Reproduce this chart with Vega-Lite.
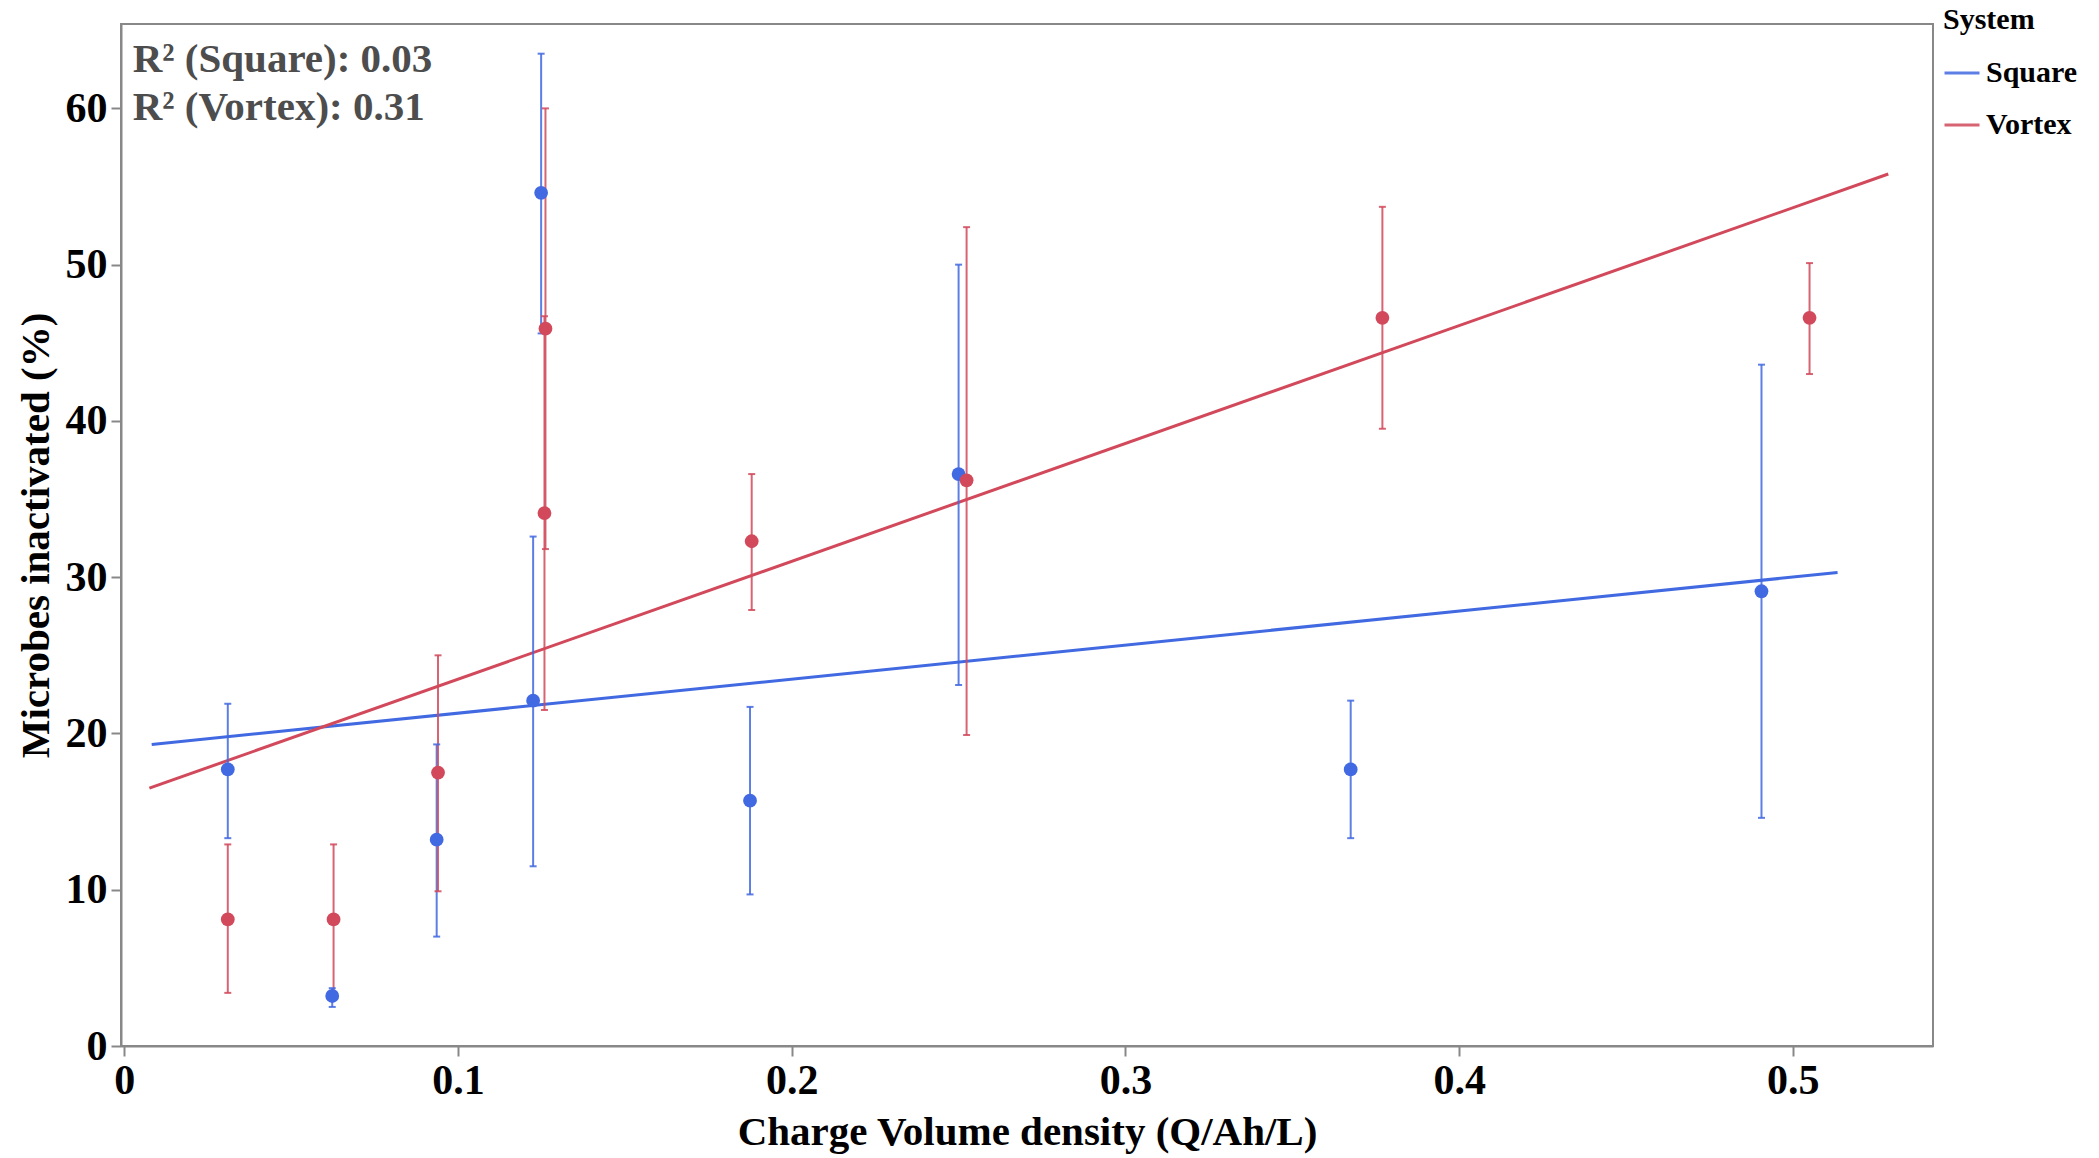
{
  "$schema": "https://vega.github.io/schema/vega-lite/v6.json",
  "width": 1812,
  "height": 1022,
  "autosize": {"type": "none"},
  "padding": {"left": 121, "top": 24, "right": 166, "bottom": 112},
  "background": "white",
  "datasets": {
    "points": [
      {"System": "Square", "x": 0.031, "y": 17.7, "lo": 13.3, "hi": 21.9},
      {"System": "Square", "x": 0.0623, "y": 3.2, "lo": 2.5, "hi": 3.7},
      {"System": "Square", "x": 0.0936, "y": 13.2, "lo": 7.0, "hi": 19.3},
      {"System": "Square", "x": 0.1225, "y": 22.1, "lo": 11.5, "hi": 32.6},
      {"System": "Square", "x": 0.1249, "y": 54.6, "lo": 45.6, "hi": 63.5},
      {"System": "Square", "x": 0.1875, "y": 15.7, "lo": 9.7, "hi": 21.7},
      {"System": "Square", "x": 0.25, "y": 36.6, "lo": 23.1, "hi": 50.0},
      {"System": "Square", "x": 0.3675, "y": 17.7, "lo": 13.3, "hi": 22.1},
      {"System": "Square", "x": 0.4906, "y": 29.1, "lo": 14.6, "hi": 43.6},
      {"System": "Vortex", "x": 0.031, "y": 8.1, "lo": 3.4, "hi": 12.9},
      {"System": "Vortex", "x": 0.0627, "y": 8.1, "lo": 3.4, "hi": 12.9},
      {"System": "Vortex", "x": 0.094, "y": 17.5, "lo": 9.9, "hi": 25.0},
      {"System": "Vortex", "x": 0.1262, "y": 45.9, "lo": 31.8, "hi": 60.0},
      {"System": "Vortex", "x": 0.1259, "y": 34.1, "lo": 21.5, "hi": 46.7},
      {"System": "Vortex", "x": 0.188, "y": 32.3, "lo": 27.9, "hi": 36.6},
      {"System": "Vortex", "x": 0.2524, "y": 36.2, "lo": 19.9, "hi": 52.4},
      {"System": "Vortex", "x": 0.377, "y": 46.6, "lo": 39.5, "hi": 53.7},
      {"System": "Vortex", "x": 0.505, "y": 46.6, "lo": 43.0, "hi": 50.1}
    ],
    "fits": [
      {"System": "Square", "x": 0.0082, "y": 19.3},
      {"System": "Square", "x": 0.5134, "y": 30.3},
      {"System": "Vortex", "x": 0.0075, "y": 16.5},
      {"System": "Vortex", "x": 0.5286, "y": 55.8}
    ],
    "notes": [
      {"label": "R² (Square): 0.03", "lx": 0.0025, "ly": 63.1},
      {"label": "R² (Vortex): 0.31", "lx": 0.0025, "ly": 60.0}
    ]
  },
  "config": {
    "font": "Liberation Serif",
    "view": {"stroke": "#888888", "strokeWidth": 2},
    "axis": {
      "grid": false,
      "domainColor": "#888888",
      "domainWidth": 2,
      "tickColor": "#888888",
      "tickWidth": 2,
      "tickSize": 10,
      "labelFont": "Liberation Serif",
      "labelFontSize": 42,
      "labelFontWeight": "bold",
      "labelColor": "black",
      "titleFont": "Liberation Serif",
      "titleFontSize": 41,
      "titleFontWeight": "bold",
      "titleColor": "black"
    },
    "legend": {
      "orient": "none",
      "legendX": 1822,
      "legendY": -19,
      "titleFont": "Liberation Serif",
      "titleFontSize": 30,
      "titleFontWeight": "bold",
      "titleColor": "black",
      "titlePadding": 19,
      "labelFont": "Liberation Serif",
      "labelFontSize": 30,
      "labelFontWeight": "bold",
      "labelColor": "black",
      "labelOffset": 5,
      "symbolType": "stroke",
      "symbolSize": 1225,
      "symbolStrokeWidth": 3,
      "rowPadding": 18
    }
  },
  "encoding": {
    "x": {
      "field": "x",
      "type": "quantitative",
      "title": "Charge Volume density (Q/Ah/L)",
      "scale": {"domain": [-0.001, 0.542], "nice": false, "zero": false},
      "axis": {"values": [0, 0.1, 0.2, 0.3, 0.4, 0.5], "format": "~g", "labelPadding": 4, "titlePadding": 11}
    }
  },
  "layer": [
    {
      "data": {"name": "fits"},
      "mark": {"type": "line", "strokeWidth": 3},
      "encoding": {
        "y": {
          "field": "y",
          "type": "quantitative",
          "title": "Microbes inactivated (%)",
          "scale": {"domain": [0, 65.4], "nice": false},
          "axis": {"values": [0, 10, 20, 30, 40, 50, 60], "labelPadding": 4, "titlePadding": 8}
        },
        "color": {
          "field": "System",
          "type": "nominal",
          "scale": {"domain": ["Square", "Vortex"], "range": ["#4169e1", "#d1495b"]},
          "legend": {"title": "System"}
        }
      }
    },
    {
      "data": {"name": "points"},
      "mark": {"type": "rule", "strokeWidth": 2, "opacity": 0.85},
      "encoding": {
        "y": {"field": "lo", "type": "quantitative"},
        "y2": {"field": "hi"},
        "color": {"field": "System", "type": "nominal"}
      }
    },
    {
      "data": {"name": "points"},
      "mark": {"type": "tick", "orient": "horizontal", "size": 7, "thickness": 2, "opacity": 0.85},
      "encoding": {
        "y": {"field": "lo", "type": "quantitative"},
        "color": {"field": "System", "type": "nominal"}
      }
    },
    {
      "data": {"name": "points"},
      "mark": {"type": "tick", "orient": "horizontal", "size": 7, "thickness": 2, "opacity": 0.85},
      "encoding": {
        "y": {"field": "hi", "type": "quantitative"},
        "color": {"field": "System", "type": "nominal"}
      }
    },
    {
      "data": {"name": "points"},
      "mark": {"type": "circle", "size": 190, "opacity": 1},
      "encoding": {
        "y": {"field": "y", "type": "quantitative"},
        "color": {"field": "System", "type": "nominal"}
      }
    },
    {
      "data": {"name": "notes"},
      "mark": {"type": "text", "align": "left", "baseline": "middle", "font": "Liberation Serif", "fontSize": 41, "fontWeight": "bold", "color": "#4d4d4d"},
      "encoding": {
        "x": {"field": "lx", "type": "quantitative"},
        "y": {"field": "ly", "type": "quantitative"},
        "text": {"field": "label"}
      }
    }
  ]
}
